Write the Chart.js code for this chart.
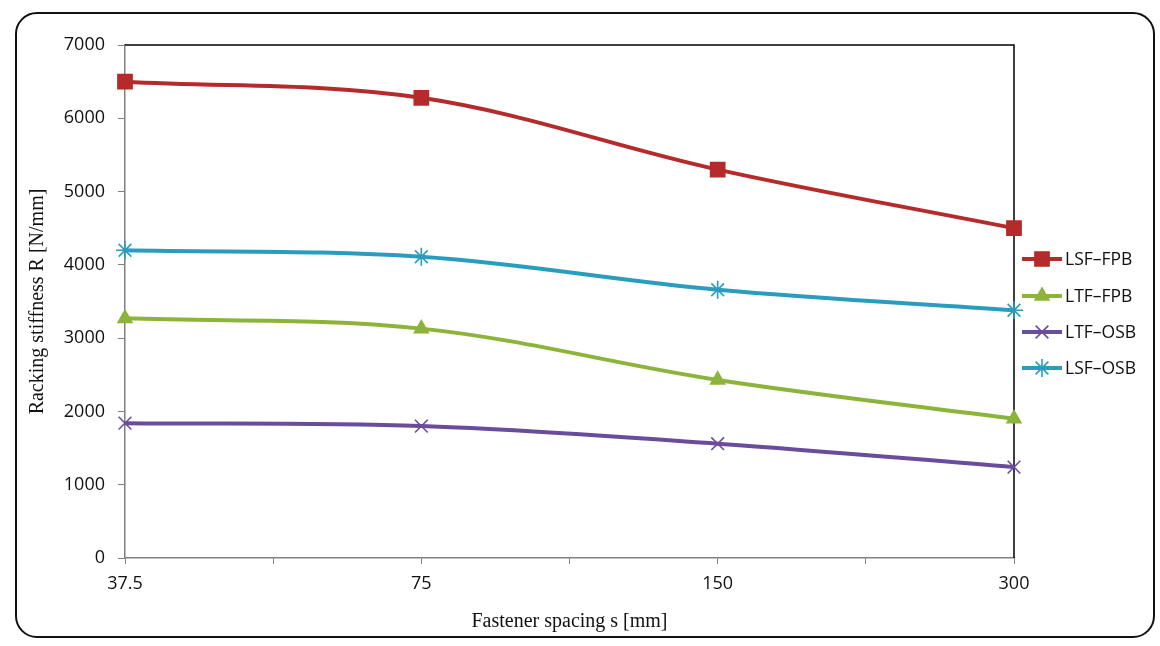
<!DOCTYPE html>
<html>
<head>
<meta charset="utf-8">
<script src="https://cdn.jsdelivr.net/npm/chart.js@4.4.1/dist/chart.umd.min.js"></script>
<style>
  html, body { margin: 0; padding: 0; background: #fff; }
  #frame {
    position: absolute; left: 15px; top: 12px;
    width: 1136px; height: 622px;
    border: 2px solid #111; border-radius: 22px;
  }
  #myChart { position: absolute; left: 0; top: 0; }
</style>
</head>
<body>
<div id="frame"></div>
<canvas id="myChart" width="1160" height="646"></canvas>
<script>
// 데이터
const spacings = ['37.5', '75', '150', '300'];   // x축 라벨 (mm)
const lsfFpb = [6500, 6280, 5300, 4500];
const ltfFpb = [3270, 3130, 2430, 1900];
const ltfOsb = [1840, 1800, 1560, 1240];
const lsfOsb = [4200, 4110, 3660, 3380];
const yTicks = [0, 1000, 2000, 3000, 4000, 5000, 6000, 7000];

const toPoints = arr => arr.map((v, i) => ({ x: i, y: v }));

const tickFont = { family: 'Open Sans', size: 18 };
const titleFont = { family: 'Liberation Serif', size: 20 };

// 범례 (선 + 마커), 오른쪽
const lineLegend = {
    id: 'lineLegend',
    afterDraw(chart) {
        const c = chart.ctx;
        const rows = [259, 296, 332, 368];
        chart.data.datasets.forEach((ds, i) => {
            const y = rows[i];
            c.save();
            c.strokeStyle = ds.borderColor;
            c.lineWidth = 4;
            c.beginPath();
            c.moveTo(1022, y);
            c.lineTo(1062, y);
            c.stroke();
            c.fillStyle = ds.pointBackgroundColor;
            c.strokeStyle = ds.pointBorderColor;
            c.lineWidth = ds.pointBorderWidth;
            Chart.helpers.drawPoint(c, { pointStyle: ds.pointStyle, radius: ds.pointRadius, borderWidth: ds.pointBorderWidth }, 1042, y);
            c.fillStyle = '#111';
            c.font = '17.5px "Open Sans"';
            c.textBaseline = 'middle';
            c.fillText(ds.label, 1065, y + 1);
            c.restore();
        });
    }
};

// 위쪽, 오른쪽 테두리
const plotFrame = {
    id: 'plotFrame',
    beforeDatasetsDraw(chart) {
        const a = chart.chartArea;
        const c = chart.ctx;
        c.save();
        c.strokeStyle = '#000';
        c.lineWidth = 1.5;
        c.beginPath();
        c.moveTo(a.left, a.top);
        c.lineTo(a.right, a.top);
        c.lineTo(a.right, a.bottom);
        c.stroke();
        c.restore();
    }
};

function series(label, data, color, style, radius) {
    return {
        label: label,
        data: toPoints(data),
        borderColor: color,
        backgroundColor: color,
        pointBackgroundColor: color,
        pointBorderColor: color,
        pointStyle: style,
        pointRadius: radius,
        pointBorderWidth: 1.6,
        borderWidth: 4,
        tension: 0.35,
        clip: false,
        fill: false
    };
}

const ctx = document.getElementById('myChart').getContext('2d');
const chart = new Chart(ctx, {
    type: 'line',
    data: {
        datasets: [
            series('LSF–FPB', lsfFpb, '#B52B2B', 'rect', 10),
            series('LTF–FPB', ltfFpb, '#8CB43A', 'triangle', 8),
            series('LTF–OSB', ltfOsb, '#6A4C9C', 'crossRot', 9),
            series('LSF–OSB', lsfOsb, '#2A9DBE', 'star', 9)
        ]
    },
    options: {
        responsive: false,
        animation: false,
        layout: { padding: { top: 45, right: 146, left: 0, bottom: 0 } },
        plugins: {
            legend: { display: false },
            tooltip: { enabled: false }
        },
        scales: {
            x: {
                type: 'linear',
                min: 0,
                max: 3,
                afterFit(scale) { scale.height = 88; },
                afterBuildTicks(scale) {
                    scale.ticks = [0, 0.5, 1, 1.5, 2, 2.5, 3].map(v => ({ value: v }));
                },
                ticks: {
                    font: tickFont,
                    color: '#111',
                    padding: 9,
                    maxRotation: 0,
                    autoSkip: false,
                    callback: v => Number.isInteger(v) ? spacings[v] : ''
                },
                grid: { drawOnChartArea: false, tickLength: 6, color: '#808080' },
                border: { color: '#808080', width: 1.5 },
                title: {
                    display: true,
                    text: 'Fastener spacing s [mm]',
                    font: titleFont,
                    color: '#111',
                    padding: { top: 0, bottom: 12 }
                }
            },
            y: {
                min: 0,
                max: 7000,
                afterFit(scale) { scale.width = 125; },
                afterBuildTicks(scale) {
                    scale.ticks = yTicks.map(v => ({ value: v }));
                },
                ticks: { font: tickFont, color: '#111', padding: 13, callback: v => String(v) },
                grid: { drawOnChartArea: false, tickLength: 7, color: '#808080' },
                border: { color: '#808080', width: 1.5 },
                title: {
                    display: true,
                    text: 'Racking stiffness R [N/mm]',
                    font: titleFont,
                    color: '#111',
                    padding: { top: 26, bottom: 0 }
                }
            }
        }
    },
    plugins: [lineLegend, plotFrame]
});
</script>
</body>
</html>
